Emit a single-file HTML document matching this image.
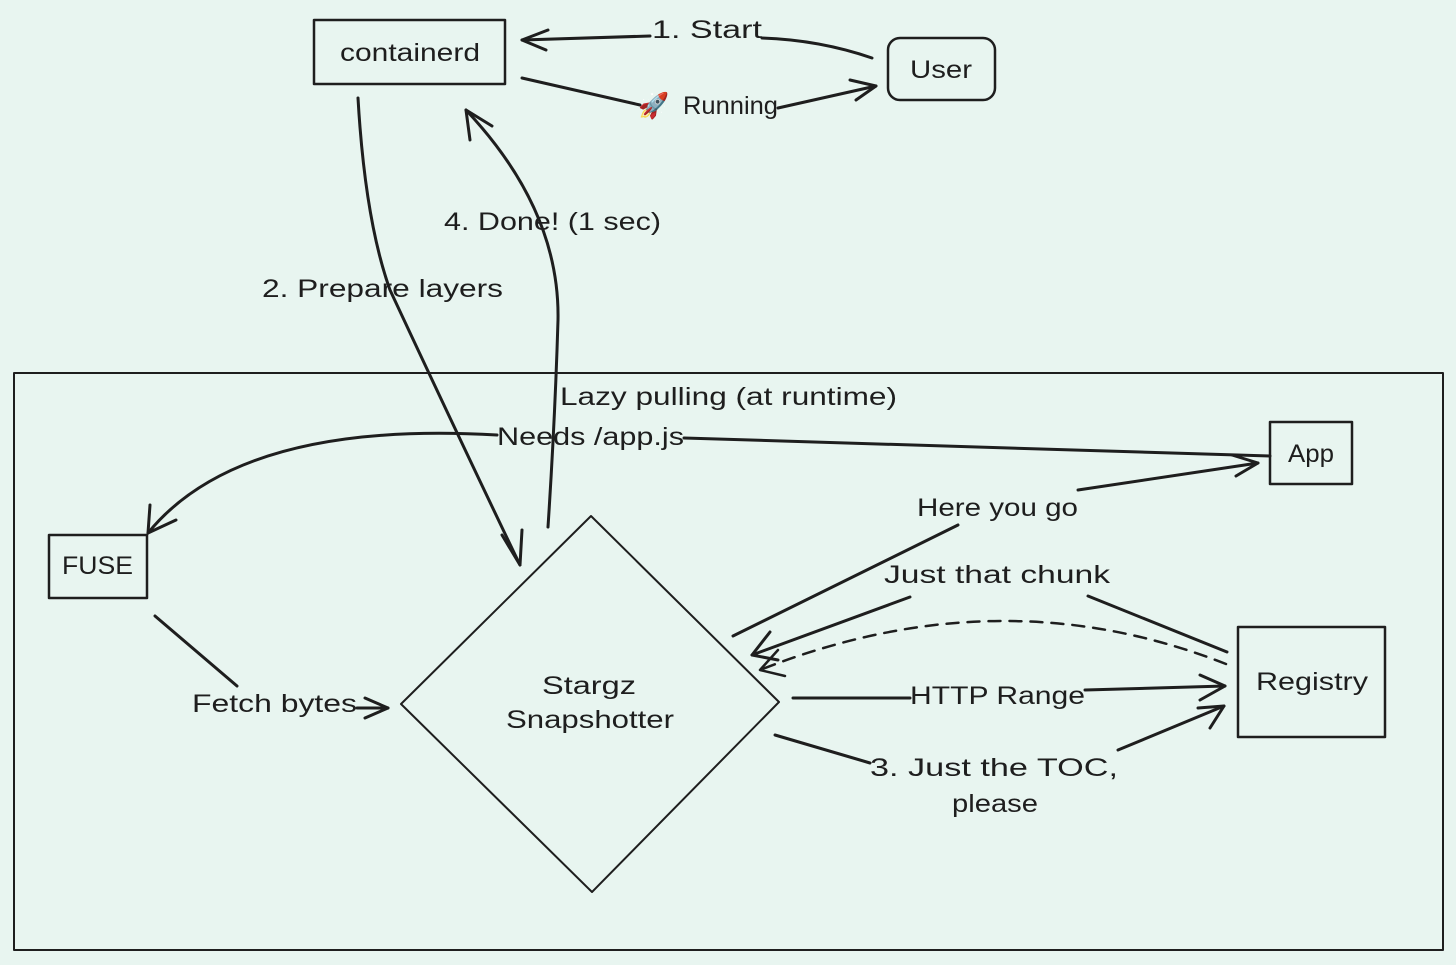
<!DOCTYPE html>
<html><head><meta charset="utf-8"><style>
html,body{margin:0;padding:0;background:#e8f5f0;}
svg{display:block}
text{font-family:"Liberation Sans",sans-serif;font-size:25px;fill:#1e1e1e}
</style></head><body>
<svg width="1456" height="965" viewBox="0 0 1456 965" xmlns="http://www.w3.org/2000/svg">
<rect width="1456" height="965" fill="#e8f5f0"/>
<g fill="none" stroke="#1e1e1e" stroke-width="2.5" stroke-linecap="round" stroke-linejoin="round">
<rect x="314" y="20" width="191" height="64"/>
<rect x="888" y="38" width="107" height="62" rx="12"/>
<rect x="14" y="373" width="1429" height="577" stroke-width="2"/>
<path d="M591 516 L779 702 L592 892 L401 704 Z" stroke-width="2"/>
<rect x="49" y="535" width="98" height="63"/>
<rect x="1270" y="422" width="82" height="62"/>
<rect x="1238" y="627" width="147" height="110"/>
<g stroke-width="3">
<path d="M872 58 Q820 40 762 38"/><path d="M650 36 L522 40"/><path d="M548 30 L522 40 L546 50"/>
<path d="M522 78 L640 105"/><path d="M778 108 L876 86"/><path d="M850 80 L876 86 L856 100"/>
<path d="M358 98 Q365 220 390 290 Q460 440 520 565"/><path d="M502 535 L520 565 L522 530"/>
<path d="M548 527 Q555 420 558 320 Q560 210 466 110"/><path d="M470 140 L466 110 L492 126"/>
<path d="M1270 456 L684 438"/><path d="M497 435 Q240 420 148 533"/><path d="M150 505 L148 533 L176 520"/>
<path d="M155 616 L237 686"/><path d="M357 708 L388 708"/><path d="M365 698 L388 708 L365 718"/>
<path d="M733 636 L958 525"/><path d="M1078 490 L1258 463"/><path d="M1232 455 L1258 463 L1236 476"/>
<path d="M1227 652 L1088 596"/><path d="M910 597 L752 655"/><path d="M770 632 L752 655 L778 660"/>
<path d="M793 698 L910 698"/><path d="M1085 690 L1225 686"/><path d="M1200 675 L1225 686 L1200 700"/>
<path d="M775 735 L870 763"/><path d="M1118 750 L1224 706"/><path d="M1198 708 L1224 706 L1210 728"/>
</g>
<path d="M1226 664 Q1000 575 760 670" stroke-width="2.5" stroke-dasharray="12 9"/>
<path d="M778 650 L760 670 L785 676" stroke-width="2.5"/>
</g>
<text x="340" y="61" textLength="140" lengthAdjust="spacingAndGlyphs">containerd</text>
<text x="910" y="78" textLength="62" lengthAdjust="spacingAndGlyphs">User</text>
<text x="652" y="38" textLength="110" lengthAdjust="spacingAndGlyphs">1. Start</text>
<text x="638" y="114" font-size="22">🚀</text>
<text x="683" y="114" textLength="95" lengthAdjust="spacingAndGlyphs">Running</text>
<text x="262" y="297" textLength="241" lengthAdjust="spacingAndGlyphs">2. Prepare layers</text>
<text x="444" y="230" textLength="217" lengthAdjust="spacingAndGlyphs">4. Done! (1 sec)</text>
<text x="560" y="405" textLength="337" lengthAdjust="spacingAndGlyphs">Lazy pulling (at runtime)</text>
<text x="497" y="445" textLength="187" lengthAdjust="spacingAndGlyphs">Needs /app.js</text>
<text x="1288" y="462" textLength="46" lengthAdjust="spacingAndGlyphs">App</text>
<text x="62" y="574" textLength="71" lengthAdjust="spacingAndGlyphs">FUSE</text>
<text x="192" y="712" textLength="165" lengthAdjust="spacingAndGlyphs">Fetch bytes</text>
<text x="542" y="694" textLength="94" lengthAdjust="spacingAndGlyphs">Stargz</text>
<text x="506" y="728" textLength="168" lengthAdjust="spacingAndGlyphs">Snapshotter</text>
<text x="917" y="516" textLength="161" lengthAdjust="spacingAndGlyphs">Here you go</text>
<text x="884" y="583" textLength="226" lengthAdjust="spacingAndGlyphs">Just that chunk</text>
<text x="910" y="704" textLength="175" lengthAdjust="spacingAndGlyphs">HTTP Range</text>
<text x="1256" y="690" textLength="112" lengthAdjust="spacingAndGlyphs">Registry</text>
<text x="870" y="776" textLength="248" lengthAdjust="spacingAndGlyphs">3. Just the TOC,</text>
<text x="952" y="812" textLength="86" lengthAdjust="spacingAndGlyphs">please</text>
</svg>
</body></html>
